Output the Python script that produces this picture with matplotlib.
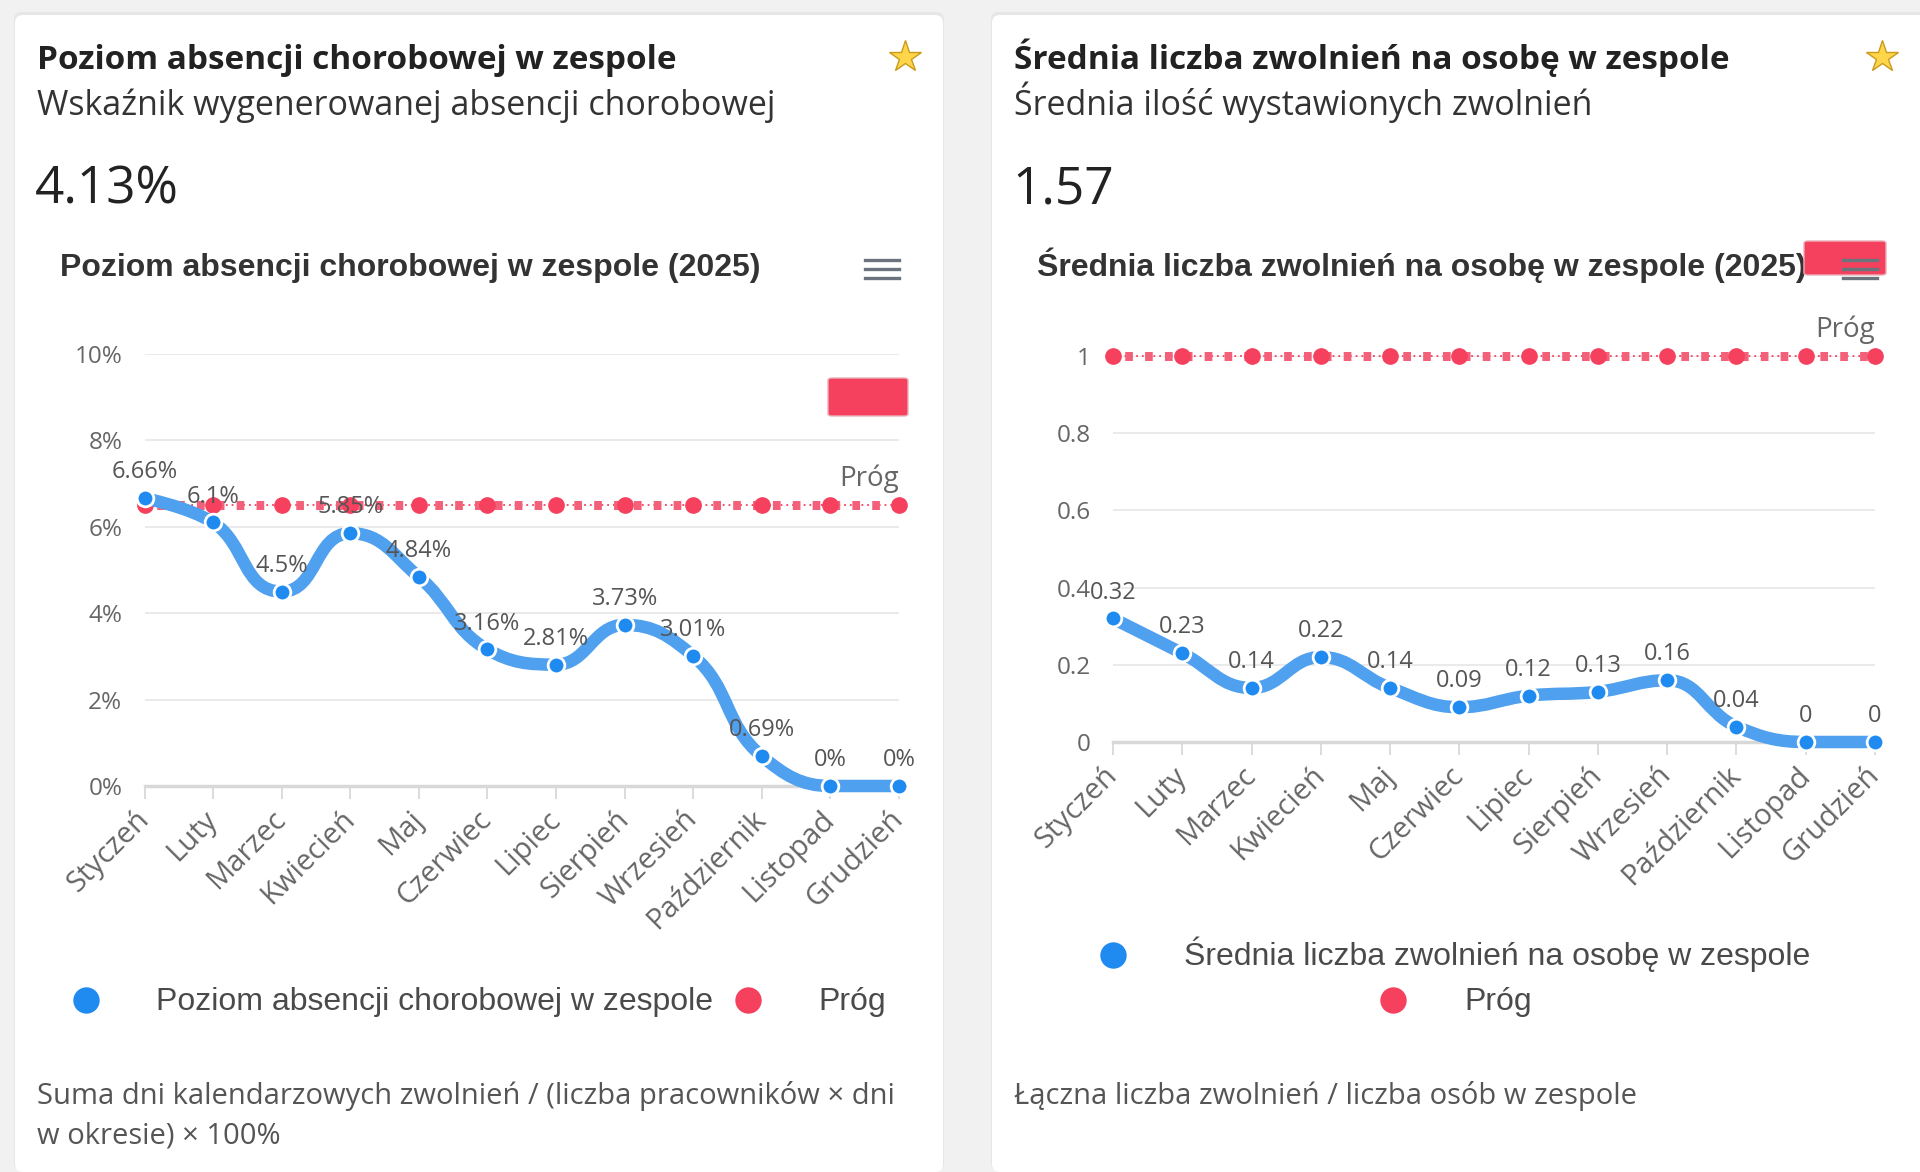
import numpy as np
import matplotlib
matplotlib.use("Agg")
import matplotlib.pyplot as plt
from matplotlib.path import Path
from matplotlib.patches import PathPatch, FancyBboxPatch
from matplotlib.lines import Line2D
from matplotlib.transforms import IdentityTransform

# dane
miesiace = ['Styczeń', 'Luty', 'Marzec', 'Kwiecień', 'Maj', 'Czerwiec', 'Lipiec',
            'Sierpień', 'Wrzesień', 'Październik', 'Listopad', 'Grudzień']
absencja = [6.66, 6.1, 4.5, 5.85, 4.84, 3.16, 2.81, 3.73, 3.01, 0.69, 0, 0]
absencja_prog = 6.5
zwolnienia = [0.32, 0.23, 0.14, 0.22, 0.14, 0.09, 0.12, 0.13, 0.16, 0.04, 0, 0]
zwolnienia_prog = 1
absencja_ticks = [0, 2, 4, 6, 8, 10]
zwolnienia_ticks = [0, 0.2, 0.4, 0.6, 0.8, 1]

W, H = 1920, 1172
NIEBIESKI = '#4fa0ef'
NIEBIESKI_PKT = '#1f8bf0'
CZERWONY = '#f5405e'
CARD_FONT = 'Open Sans'
CHART_FONT = 'Liberation Sans'

fig = plt.figure(figsize=(W / 100, H / 100), dpi=100, facecolor='#f1f1f1')


def fx(x):
    return x / W


def fy(y):
    return 1 - y / H


def karta(x0, x1):
    cien = FancyBboxPatch((x0 - 1, 1), x1 - x0 + 2, H - 15 + 2,
                          boxstyle='round,pad=0,rounding_size=8',
                          transform=IdentityTransform(), facecolor='#e6e6e6',
                          edgecolor='none', zorder=0)
    fig.add_artist(cien)
    p = FancyBboxPatch((x0, 0), x1 - x0, H - 15,
                       boxstyle='round,pad=0,rounding_size=8',
                       transform=IdentityTransform(), facecolor='white',
                       edgecolor='none', zorder=0)
    fig.add_artist(p)


def spline(ax, xs, ys, smoothing=1.5):
    # krzywa jak w Highcharts (spline)
    pts = ax.transData.transform(np.column_stack([xs, ys]))
    n = len(pts)
    lewe = pts.copy()
    prawe = pts.copy()
    for i in range(1, n - 1):
        px, py = pts[i]
        lx, ly = pts[i - 1]
        nx, ny = pts[i + 1]
        d = smoothing + 1
        lcx, lcy = (smoothing * px + lx) / d, (smoothing * py + ly) / d
        rcx, rcy = (smoothing * px + nx) / d, (smoothing * py + ny) / d
        dl = np.hypot(lcx - px, lcy - py)
        dr = np.hypot(rcx - px, rcy - py)
        la = np.arctan2(lcy - py, lcx - px)
        ra = np.arctan2(rcy - py, rcx - px)
        ja = np.pi / 2 + (la + ra) / 2
        if abs(la - ja) > np.pi / 2:
            ja -= np.pi
        lcx, lcy = px + np.cos(ja) * dl, py + np.sin(ja) * dl
        rcx, rcy = px + np.cos(np.pi + ja) * dr, py + np.sin(np.pi + ja) * dr
        if lcy > max(ly, py) or lcy < min(ly, py):
            lcy = min(max(lcy, min(ly, py)), max(ly, py))
            rcy = 2 * py - lcy
        if rcy > max(ny, py) or rcy < min(ny, py):
            rcy = min(max(rcy, min(ny, py)), max(ny, py))
            lcy = 2 * py - rcy
        lewe[i] = (lcx, lcy)
        prawe[i] = (rcx, rcy)
    verts = [pts[0]]
    codes = [Path.MOVETO]
    for i in range(1, n):
        verts += [prawe[i - 1], lewe[i], pts[i]]
        codes += [Path.CURVE4] * 3
    verts = ax.transData.inverted().transform(np.array(verts))
    return Path(verts, codes)


def wykres(box, wartosci, prog, ticks, fmt, tytul, tytul_xy):
    ax = fig.add_axes(box)
    ax.set_facecolor('none')
    x = np.arange(len(miesiace))
    ax.set_xlim(0, len(miesiace) - 1)
    ax.set_ylim(ticks[0], ticks[-1])
    ax.set_yticks(ticks)
    ax.set_yticklabels([fmt(t) for t in ticks], fontsize=17.5, color='#666666',
                       family=CARD_FONT)
    ax.set_xticks(x)
    ax.set_xticklabels(miesiace, rotation=45, ha='right', va='center',
                       rotation_mode='anchor', fontsize=21, color='#666666',
                       family=CARD_FONT)
    ax.tick_params(axis='y', length=0, pad=16)
    ax.tick_params(axis='x', length=9, width=1.2, color='#d6d6d6', pad=12)
    ax.grid(axis='y', color='#e6e6e6', linewidth=1.2)
    for s in ['top', 'right', 'left']:
        ax.spines[s].set_visible(False)
    ax.spines['bottom'].set_color('#d8d8d8')
    ax.spines['bottom'].set_linewidth(2.5)
    ax.set_axisbelow(True)

    # linia progu
    ax.plot(x, [prog] * len(x), color=CZERWONY, lw=1.3, ls=(0, (1, 2.2)),
            zorder=3, clip_on=False)
    ax.plot(x, [prog] * len(x), color='#f2607a', lw=6.5, ls=(0.9, (0.85, 1.35)),
            zorder=3, clip_on=False)
    ax.plot(x, [prog] * len(x), 'o', color=CZERWONY, ms=11, zorder=4,
            clip_on=False)
    ax.annotate('Próg', (x[-1], prog), xytext=(0, 9), textcoords='offset points',
                ha='right', va='bottom', fontsize=20, color='#666666',
                family=CARD_FONT)

    # seria
    sciezka = spline(ax, x, wartosci)
    ax.add_patch(PathPatch(sciezka, facecolor='none', edgecolor=NIEBIESKI,
                           lw=9, zorder=5, clip_on=False,
                           capstyle='round', joinstyle='round'))
    ax.plot(x, wartosci, 'o', color=NIEBIESKI_PKT, ms=12, mec='white', mew=2,
            zorder=6, clip_on=False)
    for xi, v in zip(x, wartosci):
        ax.annotate(fmt(v), (xi, v), xytext=(0, 10), textcoords='offset points',
                    ha='center', va='bottom', fontsize=17, color='#555555',
                    family=CARD_FONT, zorder=7)
    fig.text(fx(tytul_xy[0]), fy(tytul_xy[1]), tytul, fontsize=23,
             fontweight='bold', color='#333333', family=CHART_FONT,
             va='baseline')
    return ax


def proc(v):
    return '{:g}%'.format(v)


def liczba(v):
    return '{:g}'.format(v)


def hamburger(x0, x1, ys):
    for y in ys:
        fig.add_artist(Line2D([fx(x0), fx(x1)], [fy(y), fy(y)], color='#6b737c',
                              lw=2.4, zorder=10))


def gwiazdka(x, y):
    fig.add_artist(Line2D([fx(x)], [fy(y)], marker='*', ms=24, color='#ffd54a',
                          mec='#c99a1c', mew=1.0, zorder=10))


def kropka(x, y, kolor):
    fig.add_artist(Line2D([fx(x)], [fy(y)], marker='o', ms=19, color=kolor,
                          mec='none'))


def tekst(x, y, s, **kw):
    fig.text(fx(x), fy(y), s, va='baseline', **kw)


karta(15, 943)
karta(992, 1935)

# lewa karta
tekst(37, 69, 'Poziom absencji chorobowej w zespole', fontsize=24,
      fontweight='bold', color='#222222', family=CARD_FONT)
tekst(37, 115, 'Wskaźnik wygenerowanej absencji chorobowej', fontsize=24.5,
      color='#333333', family=CARD_FONT)
tekst(35, 203, '4.13%', fontsize=37, color='#222222', family=CARD_FONT)
ax1 = wykres([fx(144.5), fy(786), (899 - 144.5) / W, (786 - 354) / H],
             absencja, absencja_prog, absencja_ticks, proc,
             'Poziom absencji chorobowej w zespole (2025)', (60, 276))
fig.add_artist(FancyBboxPatch((fx(828), fy(416)), (908 - 828) / W, (416 - 378) / H,
                              boxstyle='round,pad=0,rounding_size=0.002',
                              facecolor=CZERWONY, edgecolor='#e8b0b8', lw=1,
                              transform=fig.transFigure, zorder=9))
hamburger(865, 899, [260, 269, 278])
gwiazdka(905, 57)

kropka(86, 1000, NIEBIESKI_PKT)
tekst(156, 1010, 'Poziom absencji chorobowej w zespole', fontsize=23,
      color='#4a4a4a', family=CHART_FONT)
kropka(748, 1000, CZERWONY)
tekst(818, 1010, 'Próg', fontsize=23, color='#4a4a4a', family=CHART_FONT)
tekst(37, 1104, 'Suma dni kalendarzowych zwolnień / (liczba pracowników × dni',
      fontsize=21, color='#555555', family=CARD_FONT)
tekst(37, 1143, 'w okresie) × 100%', fontsize=21, color='#555555',
      family=CARD_FONT)

# prawa karta
tekst(1014, 69, 'Średnia liczba zwolnień na osobę w zespole', fontsize=24,
      fontweight='bold', color='#222222', family=CARD_FONT)
tekst(1014, 115, 'Średnia ilość wystawionych zwolnień', fontsize=24.5,
      color='#333333', family=CARD_FONT)
tekst(1012, 203, '1.57', fontsize=37, color='#222222', family=CARD_FONT)
ax2 = wykres([fx(1113), fy(742), (1875 - 1113) / W, (742 - 356) / H],
             zwolnienia, zwolnienia_prog, zwolnienia_ticks, liczba,
             'Średnia liczba zwolnień na osobę w zespole (2025)', (1037, 276))
fig.add_artist(FancyBboxPatch((fx(1804), fy(275)), (1886 - 1804) / W, (275 - 241) / H,
                              boxstyle='round,pad=0,rounding_size=0.002',
                              facecolor=CZERWONY, edgecolor='#e8b0b8', lw=1,
                              transform=fig.transFigure, zorder=9))
hamburger(1843, 1877, [260, 269, 278])
gwiazdka(1882, 57)

kropka(1113, 955, NIEBIESKI_PKT)
tekst(1184, 965, 'Średnia liczba zwolnień na osobę w zespole', fontsize=23,
      color='#4a4a4a', family=CHART_FONT)
kropka(1393, 1000, CZERWONY)
tekst(1464, 1010, 'Próg', fontsize=23, color='#4a4a4a', family=CHART_FONT)
tekst(1014, 1104, 'Łączna liczba zwolnień / liczba osób w zespole',
      fontsize=21, color='#555555', family=CARD_FONT)

fig.savefig('out.png', dpi=100, facecolor=fig.get_facecolor())
